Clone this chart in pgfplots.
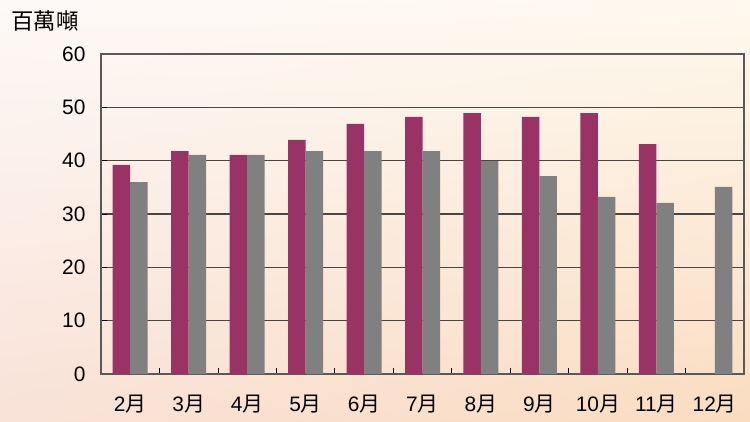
\documentclass[border=0pt]{standalone}
\usepackage{pgfplots}
\pgfplotsset{compat=1.18}
\usetikzlibrary{shadings}
\usepackage{fontspec}
\setmainfont{Liberation Sans}
\newfontfamily\cjk{Noto Sans CJK TC}
\newcommand\yue{{\cjk 月}}
\definecolor{crim}{HTML}{993366}
\definecolor{gr}{HTML}{808080}
\definecolor{gridc}{HTML}{4A4542}
\definecolor{bgul}{RGB}{253,249,247}
\definecolor{bgur}{RGB}{254,249,238}
\definecolor{bgll}{RGB}{249,226,216}
\definecolor{bglr}{RGB}{250,220,192}
\begin{document}
\begin{tikzpicture}[x=1bp,y=1bp]
\shade[upper left=bgul,upper right=bgur,lower left=bgll,lower right=bglr]
 (0,0) rectangle (750,421);
\node[anchor=west,inner sep=0pt,font=\cjk\fontsize{22.5}{24}\selectfont] at (11,400) {百萬噸};
\begin{axis}[
  at={(101bp,47bp)}, anchor=south west,
  width=643bp, height=320bp, scale only axis,
  ybar=0pt, bar width=17.5bp,
  xmin=-0.5, xmax=10.5, ymin=0, ymax=60,
  ytick={0,10,...,60},
  xtick={0,...,10},
  xticklabels={2\yue,3\yue,4\yue,5\yue,6\yue,7\yue,8\yue,9\yue,10\yue,11\yue,12\yue},
  minor xtick={-0.5,0.5,...,10.5},
  major x tick style={draw=none},
  minor x tick style={draw=black, line width=0.8pt},
  minor tick length=6bp,
  y tick style={draw=black, line width=0.8pt},
  ytick pos=left, xtick pos=bottom,
  tick align=inside,
  ymajorgrids, grid style={draw=gridc, line width=1.2pt},
  axis line style={draw=gray!70!black, line width=1.2pt},
  /pgf/number format/assume math mode=true,
  ticklabel style={font=\fontsize{21}{23}\selectfont},
  xticklabel style={yshift=-18bp},
  yticklabel style={xshift=-12bp},
  major tick length=6bp,
]
\addplot[fill=crim, draw=none] coordinates {(0,39.2) (1,41.8) (2,41.1) (3,43.9) (4,46.9) (5,48.2) (6,48.9) (7,48.2) (8,48.9) (9,43.1)};
\addplot[fill=gr, draw=none] coordinates {(0,36) (1,41.1) (2,41.1) (3,41.8) (4,41.8) (5,41.8) (6,39.9) (7,37.1) (8,33.2) (9,32.1) (10,35.1)};
\end{axis}
\pgfresetboundingbox
\useasboundingbox (0,0) rectangle (750,421);
\end{tikzpicture}
\end{document}
